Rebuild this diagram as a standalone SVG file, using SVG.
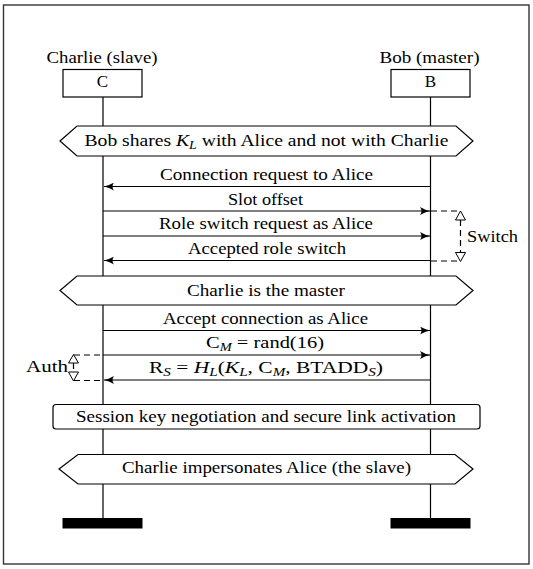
<svg xmlns="http://www.w3.org/2000/svg" width="533" height="569" viewBox="0 0 533 569">
<defs>
<style>
text{font-family:"Liberation Serif","DejaVu Serif",serif;font-size:17px;fill:#000}
.c{text-anchor:middle}
.i{font-style:italic}
.sub{font-size:12px}
.ln{stroke:#000;stroke-width:1.2;fill:none}
.dash{stroke:#000;stroke-width:1.2;fill:none;stroke-dasharray:6,4}
.box{fill:#fff;stroke:#000;stroke-width:1.2}
.tri{fill:#fff;stroke:#000;stroke-width:1}
</style>
<marker id="ah" viewBox="0 0 10 8" refX="10" refY="4" markerWidth="10" markerHeight="8" markerUnits="userSpaceOnUse" orient="auto">
<path d="M0,0 Q5,3 10,4 Q5,5 0,8 Q3,4 0,0 Z" fill="#000"/>
</marker>
</defs>
<rect x="3.5" y="5" width="525.5" height="559" fill="#fff" stroke="#333" stroke-width="1.4"/>

<g id="lifelines">
<line class="ln" x1="103" y1="97" x2="103" y2="518"/>
<line class="ln" x1="430.5" y1="97" x2="430.5" y2="518"/>
</g>

<g id="charlie">
<text class="c" x="102" y="62.5" textLength="111" lengthAdjust="spacingAndGlyphs">Charlie (slave)</text>
<rect class="box" x="63" y="69.5" width="79" height="27.5"/>
<text class="c" x="102.5" y="87">C</text>
<rect x="62.5" y="518" width="80" height="10.5" fill="#000"/>
</g>
<g id="bob">
<text class="c" x="429.5" y="62.5" textLength="100" lengthAdjust="spacingAndGlyphs">Bob (master)</text>
<rect class="box" x="391" y="69.5" width="79" height="27.5"/>
<text class="c" x="430.5" y="87">B</text>
<rect x="390.5" y="518" width="80" height="10.5" fill="#000"/>
</g>

<g id="state1">
<polygon class="box" points="60,141 77,126 456,126 473,141 456,156 77,156"/>
<text class="c" x="266.5" y="145.5" textLength="364" lengthAdjust="spacingAndGlyphs">Bob shares <tspan class="i">K</tspan><tspan class="i sub" dy="3">L</tspan><tspan dy="-3"> with Alice and not with Charlie</tspan></text>
</g>

<g id="connectors">
<line class="ln" x1="430.5" y1="186.5" x2="104" y2="186.5" marker-end="url(#ah)"/>
<line class="ln" x1="103" y1="211" x2="430" y2="211" marker-end="url(#ah)"/>
<line class="ln" x1="103" y1="236" x2="430" y2="236" marker-end="url(#ah)"/>
<line class="ln" x1="430.5" y1="260.5" x2="104" y2="260.5" marker-end="url(#ah)"/>
<line class="ln" x1="103" y1="330.5" x2="430" y2="330.5" marker-end="url(#ah)"/>
<line class="ln" x1="103" y1="355" x2="430" y2="355" marker-end="url(#ah)"/>
<line class="ln" x1="430.5" y1="380" x2="104" y2="380" marker-end="url(#ah)"/>
</g>

<g id="msg-labels">
<text class="c" x="266.5" y="180" textLength="213" lengthAdjust="spacingAndGlyphs">Connection request to Alice</text>
<text class="c" x="265.5" y="204.5" textLength="75" lengthAdjust="spacingAndGlyphs">Slot offset</text>
<text class="c" x="266" y="229" textLength="214" lengthAdjust="spacingAndGlyphs">Role switch request as Alice</text>
<text class="c" x="267" y="254" textLength="158" lengthAdjust="spacingAndGlyphs">Accepted role switch</text>
<text class="c" x="265.5" y="323.5" textLength="205" lengthAdjust="spacingAndGlyphs">Accept connection as Alice</text>
<text class="c" x="265" y="348" textLength="118" lengthAdjust="spacingAndGlyphs">C<tspan class="i sub" dy="3">M</tspan><tspan dy="-3"> = rand(16)</tspan></text>
<text class="c" x="266" y="373" textLength="234" lengthAdjust="spacingAndGlyphs">R<tspan class="i sub" dy="3">S</tspan><tspan dy="-3"> = </tspan><tspan class="i">H</tspan><tspan class="i sub" dy="3">L</tspan><tspan dy="-3">(</tspan><tspan class="i">K</tspan><tspan class="i sub" dy="3">L</tspan><tspan dy="-3">, C</tspan><tspan class="i sub" dy="3">M</tspan><tspan dy="-3">, BTADD</tspan><tspan class="i sub" dy="3">S</tspan><tspan dy="-3">)</tspan></text>
</g>

<g id="switch">
<line class="dash" x1="431" y1="211" x2="460" y2="211"/>
<line class="dash" x1="431" y1="261" x2="460" y2="261"/>
<line class="dash" x1="460.5" y1="220" x2="460.5" y2="252"/>
<polygon class="tri" points="460.5,211 455.5,220 465.5,220"/>
<polygon class="tri" points="460.5,261.5 455.5,252.5 465.5,252.5"/>
<text x="467" y="242" textLength="51" lengthAdjust="spacingAndGlyphs">Switch</text>
</g>

<g id="state2">
<polygon class="box" points="60,290.5 77,276 456,276 473,290.5 456,305 77,305"/>
<text class="c" x="266" y="295.5" textLength="158" lengthAdjust="spacingAndGlyphs">Charlie is the master</text>
</g>

<g id="auth">
<line class="dash" x1="74" y1="355" x2="102" y2="355"/>
<line class="dash" x1="74" y1="380.5" x2="102" y2="380.5"/>
<line class="dash" x1="73.5" y1="363" x2="73.5" y2="372"/>
<polygon class="tri" points="73.5,354.5 68.5,363 78.5,363"/>
<polygon class="tri" points="73.5,381 68.5,372 78.5,372"/>
<text x="26" y="372" textLength="42" lengthAdjust="spacingAndGlyphs">Auth</text>
</g>

<g id="session">
<rect class="box" x="53" y="404.5" width="427" height="24.5" rx="3"/>
<text class="c" x="266" y="421.5" textLength="380" lengthAdjust="spacingAndGlyphs">Session key negotiation and secure link activation</text>
</g>

<g id="state3">
<polygon class="box" points="59,469 78,454.5 455,454.5 473,469 455,484 78,484"/>
<text class="c" x="266.5" y="472.5" textLength="289" lengthAdjust="spacingAndGlyphs">Charlie impersonates Alice (the slave)</text>
</g>
</svg>
